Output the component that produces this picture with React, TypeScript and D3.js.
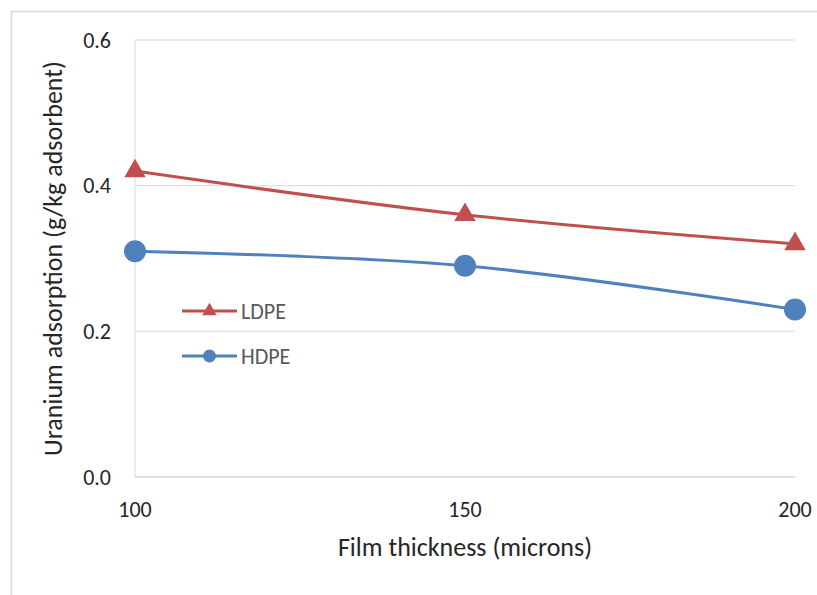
import * as d3 from 'd3'

const thickness = [100, 150, 200]
const ldpe = [0.42, 0.36, 0.32]
const hdpe = [0.31, 0.29, 0.23]
const yTicks = [0, 0.2, 0.4, 0.6]
const xTicks = [100, 150, 200]

const RED = '#C0504D'
const BLUE = '#4F81BD'
const FONT = 'Calibri, Carlito, "Open Sans", sans-serif'

export default function App() {
  const W = 817
  const H = 595
  const margin = { top: 40, right: 22, bottom: 118, left: 135 }

  const x = d3.scaleLinear().domain([100, 200]).range([margin.left, W - margin.right])
  const y = d3.scaleLinear().domain([0, 0.6]).range([H - margin.bottom, margin.top])

  const line = d3
    .line<number>()
    .x((_, i) => x(thickness[i]))
    .y((d) => y(d))
    .curve(d3.curveCatmullRom.alpha(0.5))

  const tri = d3.symbol().type(d3.symbolTriangle).size(200)

  return (
    <svg width={W} height={H} style={{ position: 'absolute', left: 0, top: 0, display: 'block' }}>
      <rect x={0} y={0} width={W} height={H} fill="#fff" />
      <rect x={11.5} y={11.5} width={W + 10} height={H + 10} fill="none" stroke="#d9d9d9" strokeWidth={1.5} />

      {/* grid */}
      {yTicks.map((t) => (
        <line key={t} x1={x(100)} x2={x(200)} y1={y(t)} y2={y(t)}
          stroke={t === 0 ? '#bfbfbf' : '#d9d9d9'} strokeWidth={1} />
      ))}
      <line x1={x(100)} x2={x(100)} y1={y(0)} y2={y(0.6)} stroke="#d9d9d9" />

      {/* tick labels */}
      {yTicks.map((t) => (
        <text key={t} x={x(100) - 24} y={y(t)} dy="0.35em" textAnchor="end"
          fontFamily={FONT} fontSize={22} fill="#262626">{t.toFixed(1)}</text>
      ))}
      {xTicks.map((t) => (
        <text key={t} x={x(t)} y={y(0) + 40} textAnchor="middle"
          fontFamily={FONT} fontSize={22} fill="#262626">{t}</text>
      ))}

      <text x={(x(100) + x(200)) / 2} y={556} textAnchor="middle"
        fontFamily={FONT} fontSize={26} fill="#262626">Film thickness (microns)</text>
      <text transform={`translate(62,${(y(0) + y(0.6)) / 2}) rotate(-90)`} textAnchor="middle"
        fontFamily={FONT} fontSize={26} fill="#262626">Uranium adsorption (g/kg adsorbent)</text>

      {/* series */}
      <path d={line(ldpe) ?? ''} fill="none" stroke={RED} strokeWidth={3} />
      <path d={line(hdpe) ?? ''} fill="none" stroke={BLUE} strokeWidth={3} />
      {ldpe.map((v, i) => (
        <path key={i} d={tri() ?? ''} transform={`translate(${x(thickness[i])},${y(v)})`} fill={RED} />
      ))}
      {hdpe.map((v, i) => (
        <circle key={i} cx={x(thickness[i])} cy={y(v)} r={11} fill={BLUE} />
      ))}

      {/* legend */}
      <g transform="translate(182,311)">
        <line x1={0} x2={55} y1={0} y2={0} stroke={RED} strokeWidth={3} />
        <path d={d3.symbol().type(d3.symbolTriangle).size(90)() ?? ''} transform="translate(27.5,0)" fill={RED} />
        <text x={59} y={0} dy="0.35em" fontFamily={FONT} fontSize={22} fill="#595959">LDPE</text>
      </g>
      <g transform="translate(182,356)">
        <line x1={0} x2={55} y1={0} y2={0} stroke={BLUE} strokeWidth={3} />
        <circle cx={27.5} cy={0} r={6.5} fill={BLUE} />
        <text x={59} y={0} dy="0.35em" fontFamily={FONT} fontSize={22} fill="#595959">HDPE</text>
      </g>
    </svg>
  )
}
